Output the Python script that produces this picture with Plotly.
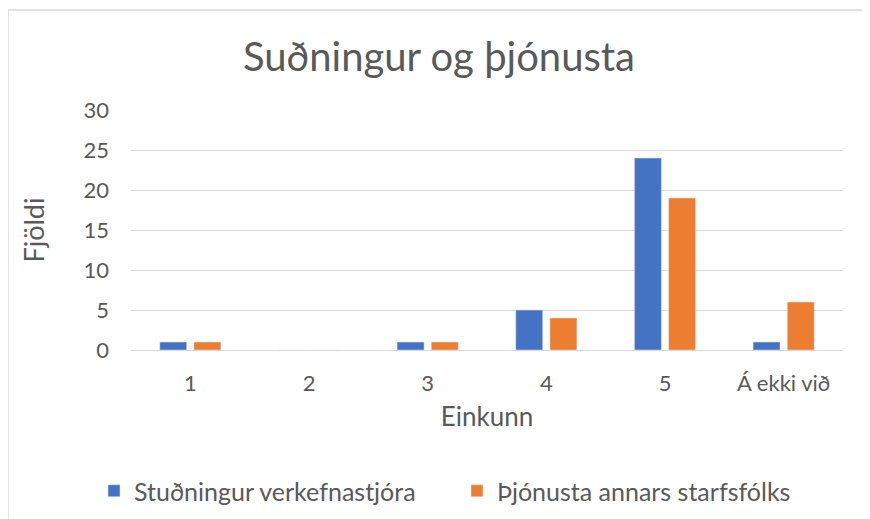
import plotly.graph_objects as go

categories = ["1", "2", "3", "4", "5", "Á ekki við"]
studningur = [1, 0, 1, 5, 24, 1]
thjonusta = [1, 0, 1, 4, 19, 6]
series_names = ["Stuðningur verkefnastjóra", "Þjónusta annars starfsfólks"]
y_ticks = [0, 5, 10, 15, 20, 25, 30]

# page body adds an 8px offset, so the figure is sized/positioned to compensate
W, H = 862, 511
L, R, T, B = 123, 27, 102, 169
FONT = "Lato, 'Open Sans', sans-serif"
TXT = "#595959"

fig = go.Figure()
fig.add_trace(go.Bar(x=categories, y=studningur, name=series_names[0],
                     marker_color="#4472C4", legend="legend", showlegend=True))
fig.add_trace(go.Bar(x=categories, y=thjonusta, name=series_names[1],
                     marker_color="#ED7D31", legend="legend2", showlegend=True))

pw = W - L - R
ph = H - T - B
def px(x):
    return (x - L) / pw
def py(y):
    return (H - B - y) / ph

fig.add_shape(type="rect", xref="paper", yref="paper",
              x0=px(0), x1=px(880), y0=py(530), y1=py(2),
              line=dict(color="#D9D9D9", width=1.5), fillcolor="rgba(0,0,0,0)", layer="below")

leg_common = dict(orientation="h", xref="container", xanchor="left",
                  yref="container", y=1 - 483 / H, yanchor="middle",
                  font=dict(size=25, color=TXT), visible=True)

fig.update_layout(
    width=W, height=H,
    showlegend=True,
    margin=dict(l=L, r=R, t=T, b=B, autoexpand=False),
    paper_bgcolor="white", plot_bgcolor="white",
    barmode="group", bargap=0.424, bargroupgap=0.21,
    title=dict(text="Suðningur og þjónusta", x=0.5, xanchor="center", xref="container",
               y=1 - 49 / H, yanchor="middle", yref="container",
               font=dict(family=FONT, size=40, color=TXT)),
    font=dict(family=FONT, color=TXT),
    xaxis=dict(type="category", tickfont=dict(size=22, color=TXT), showgrid=False,
               showline=False, ticks="", ticklabelstandoff=18,
               title=dict(text="Einkunn", font=dict(size=26, color=TXT), standoff=12)),
    yaxis=dict(range=[0, 30], tickvals=y_ticks, tickfont=dict(size=22, color=TXT),
               showgrid=True, gridcolor="#D9D9D9", gridwidth=1.3,
               zeroline=True, zerolinecolor="#D9D9D9", zerolinewidth=1.3,
               ticks="", ticklabelstandoff=21,
               title=dict(text="Fjöldi", font=dict(size=27, color=TXT), standoff=31)),
    legend=dict(x=86 / W, **leg_common),
    legend2=dict(x=449 / W, **leg_common),
)

fig.write_html("out.html")
